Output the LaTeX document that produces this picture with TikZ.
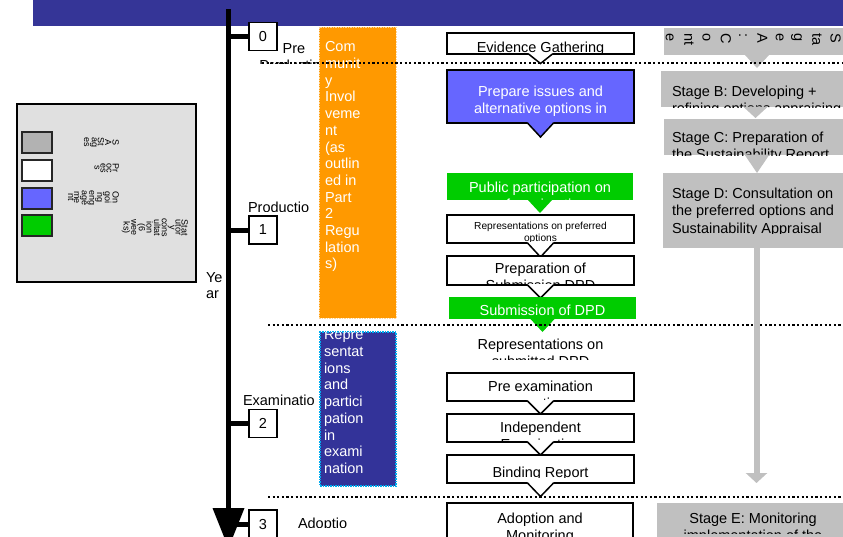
\documentclass[tikz,border=0pt]{standalone}
\usepackage{fontspec}
\setmainfont{Liberation Sans}
\usetikzlibrary{arrows.meta}
\definecolor{banner}{RGB}{53,53,151}
\definecolor{dkblue}{RGB}{51,51,153}
\definecolor{ltblue}{RGB}{102,102,255}
\definecolor{grn}{RGB}{0,204,0}
\definecolor{orng}{RGB}{255,153,0}
\definecolor{stg}{RGB}{192,192,192}
\definecolor{leg}{RGB}{224,224,224}
\definecolor{legg}{RGB}{178,178,178}
\tikzset{
  frame/.style={anchor=north west, inner sep=0pt, outer sep=0pt},
  procbox/.style={frame, draw=black, line width=1.5pt, fill=white},
  greenbox/.style={frame, fill=grn},
  stagebox/.style={frame, fill=stg},
  swatch/.style={frame, draw=black!85, line width=1.3pt, minimum width=30pt, minimum height=21pt},
  bigfont/.style={font=\fontsize{14.5}{17}\selectfont},
  txt/.style={inner sep=0pt, outer sep=0pt, bigfont, align=center, anchor=north},
  wtxt/.style={txt, text=white},
  stxt/.style={inner sep=0pt, outer sep=0pt, font=\fontsize{14.5}{17.5}\selectfont, align=left, anchor=north west},
  lbl/.style={inner sep=0pt, outer sep=0pt, bigfont, anchor=north west, align=left},
  legtxt/.style={rotate=-90, anchor=north west, align=center, inner sep=0pt, font=\fontsize{9}{6}\selectfont},
  numbox/.style={draw=black, line width=1.3pt, fill=white, minimum width=28pt, minimum height=28pt, inner sep=0pt, outer sep=0pt, bigfont},
  tick/.style={line width=5pt},
  dotline/.style={line width=2pt, dash pattern=on 2.2pt off 2.4pt},
  ptrline/.style={line width=1.5pt, line join=miter},
}
% callout pointer below a node: #1 node, #2 fill, #3 half width, #4 depth
\newcommand\outptr[4]{%
  \fill[#2] ([xshift=-#3pt,yshift=0.8pt]#1.south) -- ([yshift=-#4pt]#1.south) -- ([xshift=#3pt,yshift=0.8pt]#1.south) -- cycle;
  \draw[ptrline] ([xshift=-#3pt]#1.south) -- ([yshift=-#4pt]#1.south) -- ([xshift=#3pt]#1.south);}
\newcommand\fillptr[4]{%
  \fill[#2] ([xshift=-#3pt,yshift=0.5pt]#1.south) -- ([yshift=-#4pt]#1.south) -- ([xshift=#3pt,yshift=0.5pt]#1.south) -- cycle;}
\begin{document}
\begin{tikzpicture}[x=1pt,y=-1pt]
\useasboundingbox (0,0) rectangle (843,536);
\fill[white] (0,0) rectangle (843,536);
\node[frame, fill=banner, minimum width=810pt, minimum height=26pt] (banner) at (33,0) {};

% ---------- legend ----------
\node[frame, draw=black, line width=2pt, fill=leg, minimum width=179pt, minimum height=178pt] (legend) at (17,104) {};
\node[swatch, fill=legg] (sw1) at (22,132) {};
\node[swatch, fill=white] (sw2) at (22,160) {};
\node[swatch, fill=ltblue] (sw3) at (22,188) {};
\node[swatch, fill=grn] (sw4) at (22,215) {};
\node[legtxt] (lt1) at (119,137) {S\\A\\St\\ag\\es};
\node[legtxt] (lt2) at (119,163) {Pr\\oc\\es\\s};
\node[legtxt] (lt3) at (119,190) {On\\goi\\ng\\eng\\age\\me\\nt};
\node[legtxt] (lt4) at (188,218) {Stat\\utor\\y\\cons\\ultat\\ion\\(6\\wee\\ks)};

% ---------- timeline labels ----------
\begin{scope}\clip (250,38) rectangle (330,63);
\node[txt] (lpre) at (294,43.7) {Pre\\Production};
\end{scope}
\begin{scope}\clip (240,195) rectangle (320,211);
\node[lbl] (lprod) at (248,201.7) {Productio};
\end{scope}
\begin{scope}\clip (236,388) rectangle (318,404.5);
\node[lbl] (lexam) at (243,394.7) {Examinatio};
\end{scope}
\begin{scope}\clip (290,510) rectangle (360,527.5);
\node[lbl] (ladop) at (298,517.7) {Adoptio};
\end{scope}
\node[inner sep=0pt, outer sep=0pt, font=\fontsize{14.5}{15.5}\selectfont, anchor=north west, align=left] (lyear) at (206,272.7) {Ye\\ar};

% ---------- stage boxes (right) ----------
\node[stagebox, minimum width=186pt, minimum height=27pt] (sA) at (664,28) {};
\begin{scope}\clip (664,28) rectangle (850,55);
\node[rotate=-90, anchor=north west, align=left, inner sep=0pt, font=\fontsize{14.5}{18.3}\selectfont] (sAt) at (841,33.5) {S\\ta\\g\\e\\A\\:\\C\\o\\nt\\e};
\end{scope}
\node[stagebox, minimum width=189pt, minimum height=36pt] (sB) at (661,71) {};
\begin{scope}\clip (661,71) rectangle (850,107);
\node[stxt] (sBt) at (672,85.7) {Stage B: Developing +\\refining options appraising};
\end{scope}
\node[stagebox, minimum width=186pt, minimum height=36pt] (sC) at (664,119) {};
\begin{scope}\clip (664,119) rectangle (850,155);
\node[stxt] (sCt) at (672,131.7) {Stage C: Preparation of\\the Sustainability Report};
\end{scope}
\node[stagebox, minimum width=187pt, minimum height=75pt] (sD) at (663,173) {};
\begin{scope}\clip (663,173) rectangle (850,233.5);
\node[stxt] (sDt) at (672,187.7) {Stage D: Consultation on\\the preferred options and\\Sustainability Appraisal};
\end{scope}
\node[stagebox, minimum width=193pt, minimum height=40pt] (sE) at (657,503) {};
\begin{scope}\clip (657,503) rectangle (850,533);
\node[txt, font=\fontsize{14.5}{17.5}\selectfont] (sEt) at (753,512.7) {Stage E: Monitoring\\implementation of the};
\end{scope}
\fillptr{sA}{stg}{12.5}{13}
\fillptr{sB}{stg}{12.5}{11}
\fillptr{sC}{stg}{12.5}{18}

% ---------- process boxes (centre) ----------
\node[procbox, minimum width=187pt, minimum height=21pt] (ev) at (447,33) {};
\begin{scope}\clip (447,33) rectangle (634,53);
\node[txt] (evt) at (540.5,41.7) {Evidence Gathering};
\end{scope}
\outptr{ev}{white}{12}{9.5}

\node[procbox, fill=ltblue, minimum width=187pt, minimum height=53pt] (pi) at (447,70) {};
\node[wtxt] (pit) at (540.5,85.7) {Prepare issues and\\alternative options in};
\outptr{pi}{ltblue}{13}{14}

\node[greenbox, minimum width=186pt, minimum height=27pt] (pp) at (447,173) {};
\begin{scope}\clip (447,173) rectangle (633,200);
\node[wtxt] (ppt) at (540,182) {Public participation on\\preferred options};
\end{scope}
\fillptr{pp}{grn}{12.5}{13}

\node[procbox, minimum width=187pt, minimum height=28pt] (rp) at (447,215) {};
\begin{scope}\clip (447,215) rectangle (634,242.3);
\node[txt, font=\fontsize{10.2}{11.7}\selectfont] (rpt) at (540.5,222) {Representations on preferred\\options};
\end{scope}
\outptr{rp}{white}{13}{14}

\node[procbox, minimum width=187pt, minimum height=29pt] (ps) at (447,256) {};
\begin{scope}\clip (447,256) rectangle (634,284.3);
\node[txt] (pst) at (540.5,262.7) {Preparation of\\Submission DPD};
\end{scope}
\outptr{ps}{white}{13}{13}

\node[greenbox, minimum width=187pt, minimum height=22pt] (sd) at (449,297) {};
\node[wtxt] (sdt) at (542.5,304.7) {Submission of DPD};
\fillptr{sd}{grn}{12.5}{13}

\node[frame, fill=white, minimum width=187pt, minimum height=26pt] (rs) at (447,333) {};
\begin{scope}\clip (447,333) rectangle (634,359);
\node[txt] (rst) at (540.5,338.7) {Representations on\\submitted DPD};
\end{scope}

\node[procbox, minimum width=187pt, minimum height=28pt] (pe) at (447,373) {};
\begin{scope}\clip (447,373) rectangle (634,400.3);
\node[txt] (pet) at (540.5,380.7) {Pre examination\\meeting};
\end{scope}
\outptr{pe}{white}{13}{13}

\node[procbox, minimum width=187pt, minimum height=28pt] (ie) at (447,414) {};
\begin{scope}\clip (447,414) rectangle (634,441.3);
\node[txt] (iet) at (540.5,421.7) {Independent\\Examination};
\end{scope}
\outptr{ie}{white}{13}{13}

\node[procbox, minimum width=187pt, minimum height=28pt] (br) at (447,455) {};
\begin{scope}\clip (447,455) rectangle (634,477);
\node[txt] (brt) at (540.5,466.7) {Binding Report};
\end{scope}
\outptr{br}{white}{13}{13.5}

\node[procbox, minimum width=186pt, minimum height=40pt] (am) at (447,503) {};
\node[txt] (amt) at (540,512.7) {Adoption and\\Monitoring};

% ---------- side column boxes ----------
\node[frame, fill=orng, draw=orng!40!white, line width=1pt, dash pattern=on 1.5pt off 1pt, minimum width=77pt, minimum height=291pt] (ci) at (319,27) {};
\node[inner sep=0pt, outer sep=0pt, text=white, font=\fontsize{14.5}{16.7}\selectfont, align=left, anchor=north west] (cit) at (325,41.7) {Com\\munit\\y\\Invol\\veme\\nt\\(as\\outlin\\ed in\\Part\\2\\Regu\\lation\\s)};
\node[frame, fill=dkblue, draw=cyan, line width=1.2pt, dash pattern=on 1.5pt off 1pt, minimum width=76pt, minimum height=154pt] (rx) at (320,332) {};
\begin{scope}\clip (320,332.6) rectangle (396,486);
\node[inner sep=0pt, outer sep=0pt, text=white, font=\fontsize{14.5}{16.75}\selectfont, align=left, anchor=north west] (rxt) at (324,329.7) {Repre\\sentat\\ions\\and\\partici\\pation\\in\\exami\\nation};
\end{scope}

% ---------- dotted separators ----------
\coordinate (d1a) at (262,63);  \coordinate (d1b) at (843,63);
\coordinate (d2a) at (268,325); \coordinate (d2b) at (843,325);
\coordinate (d3a) at (268,497); \coordinate (d3b) at (843,497);
\draw[dotline] (d1a) -- (d1b);
\draw[dotline] (d2a) -- (d2b);
\draw[dotline] (d3a) -- (d3b);

% ---------- grey arrow D -> E ----------
\coordinate (gEnd) at (756.5,483);
\draw[stg, line width=6pt, -{Triangle[width=21pt,length=10pt]}] (sD.south) -- (gEnd);

% ---------- timeline ----------
\coordinate (ttop) at (228.5,9);
\coordinate (tbot) at (228.5,510);
\draw[line width=5pt] (ttop) -- (tbot);
\fill (212.5,508) -- (244.5,508) -- (228.5,548) -- cycle;
\node[numbox] (b0) at (263,36.5) {0};
\node[numbox] (b1) at (263,230) {1};
\node[numbox] (b2) at (263,423.5) {2};
\node[numbox] (b3) at (263,524) {3};
\coordinate (t0) at (228.5,36.5);
\coordinate (t1) at (228.5,230);
\coordinate (t2) at (228.5,423.5);
\coordinate (t3) at (228.5,524);
\draw[tick] (t0) -- (b0.west);
\draw[tick] (t1) -- (b1.west);
\draw[tick] (t2) -- (b2.west);
\draw[tick] (t3) -- (b3.west);
\end{tikzpicture}
\end{document}
